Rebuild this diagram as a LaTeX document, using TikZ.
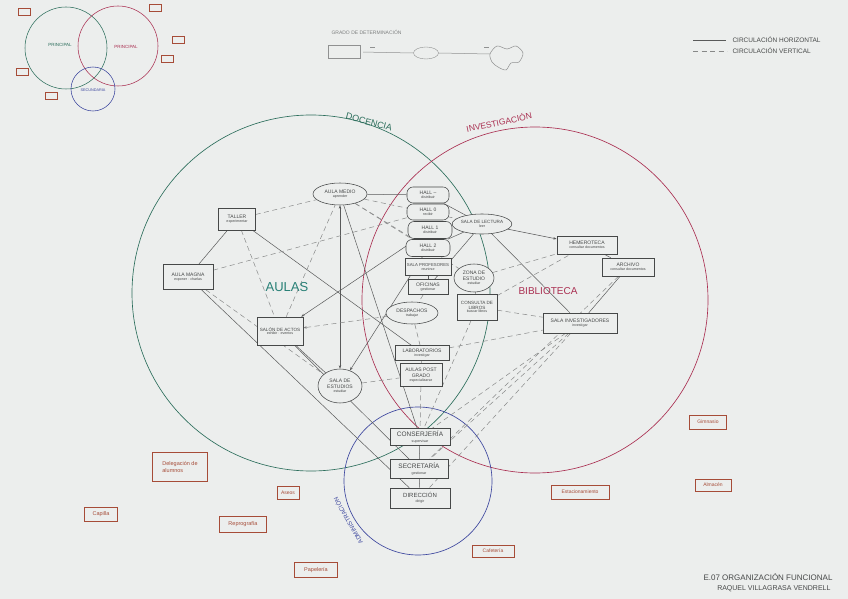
\documentclass[tikz,border=0pt]{standalone}
\usepackage{fontspec}
\setmainfont{Liberation Sans}
\usetikzlibrary{shapes.geometric,arrows.meta}

\definecolor{papel}{RGB}{236,238,237}
\definecolor{lapiz}{RGB}{70,72,72}
\definecolor{verdedoc}{RGB}{44,110,92}
\definecolor{tealaulas}{RGB}{40,128,118}
\definecolor{rojoinv}{RGB}{170,48,82}
\definecolor{azuladm}{RGB}{60,70,158}
\definecolor{marron}{RGB}{166,76,56}

\pgfdeclarelayer{fondo}
\pgfsetlayers{fondo,main}

% actividad escrita bajo el nombre del espacio
\newcommand{\uso}[1]{\\[-1.5pt]{\fontsize{3.6}{4}\selectfont #1}}

\begin{document}
\begin{tikzpicture}[x=1pt, y=-1pt,
    caja/.style={rectangle, draw=lapiz, fill=papel, line width=0.55pt, inner sep=1pt,
        align=center, text=lapiz, font=\fontsize{5}{5.5}\selectfont},
    burbuja/.style={caja, ellipse, inner sep=0pt},
    capsula/.style={caja, rounded corners=6pt},
    anexo/.style={rectangle, draw=marron, line width=0.55pt, text=marron, inner sep=1.5pt,
        align=left, font=\fontsize{5.5}{7}\selectfont},
    horiz/.style={draw=lapiz!90, line width=0.5pt},
    vert/.style={draw=lapiz!65, line width=0.5pt, dash pattern=on 5pt off 3.5pt},
    >={Stealth[length=3.5pt, width=2.4pt]}]

    \useasboundingbox (0,0) rectangle (848,599);

    % 1. Paper, small scheme top left and the three big circles
    \begin{pgfonlayer}{fondo}
        \fill[papel] (0,0) rectangle (848,599);
        \draw[verdedoc, line width=0.55pt] (66,48) circle[radius=41];
        \draw[rojoinv, line width=0.55pt] (118,46) circle[radius=40];
        \draw[azuladm, line width=0.55pt] (93,89) circle[radius=22];
        \foreach \x/\y in {24/12, 155/8, 178/40, 167/59, 22/72, 51/96}
            \draw[marron, line width=0.55pt] (\x-6,\y-3.5) rectangle (\x+6,\y+3.5);

        \draw[verdedoc, line width=0.65pt] (311,293) ellipse[x radius=179, y radius=178];
        \draw[rojoinv, line width=0.65pt] (535,300) circle[radius=173];
        \draw[azuladm, line width=0.65pt] (418,481) circle[radius=74];
    \end{pgfonlayer}

    \node[text=verdedoc, font=\fontsize{4.5}{5}\selectfont] (lprin1) at (60,45) {PRINCIPAL};
    \node[text=rojoinv, font=\fontsize{4.5}{5}\selectfont] (lprin2) at (126,47) {PRINCIPAL};
    \node[text=azuladm, font=\fontsize{3.8}{4}\selectfont] (lsecun) at (93,90) {SECUNDARIA};

    % 2. Grado de determinacion
    \node[anchor=west, text=lapiz!70, font=\fontsize{5}{5}\selectfont] (grado) at (328,32) {GRADO DE DETERMINACIÓN};
    \node[draw=lapiz!60, minimum width=32, minimum height=13, inner sep=0pt] (gradoA) at (344,52) {};
    \node[ellipse, draw=lapiz!60, minimum width=25, minimum height=12, inner sep=0pt] (gradoB) at (426,53) {};
    \coordinate (gradoC) at (490,54);
    \draw[lapiz!60, line width=0.5pt] plot[smooth cycle] coordinates {
        (490,54) (497,46) (507,49) (516,46) (523,53) (519,62) (511,63) (506,70) (498,67) (492,62)
    };
    \draw[lapiz!60, line width=0.5pt, shorten <=3pt] (gradoA.east) -- (gradoB.west);
    \draw[lapiz!60, line width=0.5pt] (gradoB.east) -- (gradoC);
    \draw[lapiz!60, line width=0.5pt] (370,47.5) -- (375,47.5);
    \draw[lapiz!60, line width=0.5pt] (484,47) -- (489,47);

    % 3. Leyenda de circulaciones
    \coordinate (hA) at (693,40);
    \coordinate (hB) at (726,40);
    \draw[horiz] (hA) -- (hB);
    \node[anchor=west, text=lapiz, font=\fontsize{6.5}{7}\selectfont] (lhoriz) at (729,40) {CIRCULACIÓN HORIZONTAL};
    \coordinate (vA) at (693,51);
    \coordinate (vB) at (727,51);
    \draw[vert] (vA) -- (vB);
    \node[anchor=west, text=lapiz, font=\fontsize{6.5}{7}\selectfont] (lvert) at (729,51) {CIRCULACIÓN VERTICAL};

    % 4. Names of the areas
    \node[text=verdedoc, rotate=-15, font=\fontsize{9}{9}\selectfont] (ldoc) at (369,122) {DOCENCIA};
    \node[text=rojoinv, rotate=12, font=\fontsize{8.5}{9}\selectfont] (linv) at (499,122) {INVESTIGACIÓN};
    \node[text=azuladm, rotate=120, inner sep=0pt, font=\fontsize{6}{6}\selectfont] (ladm) at (348,521) {ADMINISTRACIÓN};
    \node[text=tealaulas, font=\fontsize{13}{13}\selectfont] (laulas) at (287,287) {AULAS};
    \node[text=rojoinv, font=\fontsize{10}{10}\selectfont] (lbib) at (548,291) {BIBLIOTECA};

    % 5. Espacios de docencia
    \node[caja, minimum width=37, minimum height=22] (taller) at (237,219) {TALLER\uso{experimentar}};
    \node[caja, minimum width=50, minimum height=25] (magna) at (188,277) {AULA MAGNA\uso{exponer · charlas}};
    \node[caja, minimum width=46, minimum height=28, font=\fontsize{4.6}{5}\selectfont] (salon) at (280,331) {SALÓN DE ACTOS\uso{exhibir · eventos}};
    \node[burbuja, minimum width=54, minimum height=22] (medio) at (340,194) {AULA MEDIO\uso{aprender}};
    \node[burbuja, minimum width=44, minimum height=34] (estud) at (340,386) {SALA DE\\ESTUDIOS\uso{estudiar}};

    % 6. Halls, oficinas y despachos
    \node[capsula, minimum width=42, minimum height=16] (hallm) at (428,195) {HALL –\uso{distribuir}};
    \node[capsula, minimum width=42, minimum height=16] (hall0) at (428,212) {HALL 0\uso{recibir}};
    \node[capsula, minimum width=44, minimum height=17] (hall1) at (430,230) {HALL 1\uso{distribuir}};
    \node[capsula, minimum width=44, minimum height=17] (hall2) at (428,248) {HALL 2\uso{distribuir}};
    \node[caja, minimum width=46, minimum height=17, font=\fontsize{4.3}{5}\selectfont] (profes) at (428,267) {SALA PROFESORES\uso{reunirse}};
    \node[caja, minimum width=40, minimum height=15] (ofic) at (428,287) {OFICINAS\uso{gestionar}};
    \node[burbuja, minimum width=52, minimum height=22] (desp) at (412,313) {DESPACHOS\uso{trabajar}};
    \node[caja, minimum width=54, minimum height=15] (labo) at (422,353) {LABORATORIOS\uso{investigar}};
    \node[caja, minimum width=42, minimum height=23] (posg) at (421,375) {AULAS POST\\GRADO\uso{especializarse}};

    % 7. Biblioteca
    \node[burbuja, minimum width=58, minimum height=20, font=\fontsize{4.6}{5}\selectfont] (lectura) at (482,224) {SALA DE LECTURA\uso{leer}};
    \node[burbuja, minimum width=40, minimum height=28] (zona) at (474,278) {ZONA DE\\ESTUDIO\uso{estudiar}};
    \node[caja, minimum width=40, minimum height=26, font=\fontsize{4.6}{5}\selectfont] (consulta) at (477,307) {CONSULTA DE\\LIBROS\uso{buscar libros}};
    \node[caja, minimum width=60, minimum height=18] (hemero) at (587,245) {HEMEROTECA\uso{consultar documentos}};
    \node[caja, minimum width=52, minimum height=18] (archivo) at (628,267) {ARCHIVO\uso{consultar documentos}};
    \node[caja, minimum width=74, minimum height=20] (investig) at (580,323) {SALA INVESTIGADORES\uso{investigar}};

    % 8. Administracion
    \node[caja, minimum width=60, minimum height=17, font=\fontsize{6.5}{7}\selectfont] (conserje) at (420,437) {CONSERJERÍA\uso{supervisar}};
    \node[caja, minimum width=58, minimum height=19, font=\fontsize{6.5}{7}\selectfont] (secre) at (419,469) {SECRETARÍA\uso{gestionar}};
    \node[caja, minimum width=60, minimum height=20, font=\fontsize{6}{7}\selectfont] (direc) at (420,498) {DIRECCIÓN\uso{dirigir}};

    % 9. Horizontal and vertical circulation
    \begin{pgfonlayer}{fondo}
        \draw[horiz] (taller) -- (magna);
        \draw[horiz] (taller) -- (labo);
        \draw[horiz] (magna) -- (direc);
        \draw[horiz] (salon) -- (secre);
        \draw[horiz, <-] (salon) -- (hall1);
        \draw[horiz] (salon) -- (estud);
        \draw[horiz, <->] (medio) -- (estud);
        \draw[horiz, ->] (hall2) -- (estud);
        \draw[horiz] (medio) -- (hallm);
        \draw[horiz] (medio) -- (conserje);
        \draw[horiz] (profes) -- (ofic);
        \draw[horiz] (ofic) -- (lectura);
        \draw[horiz] (hallm) -- (lectura);
        \draw[horiz] (hall2) -- (lectura);
        \draw[horiz] (lectura) -- (investig);
        \draw[horiz, ->] (lectura) -- (hemero);
        \draw[horiz] (hemero) -- (archivo);
        \draw[horiz] (archivo) -- (investig);
        \draw[horiz] (zona) -- (consulta);
        \draw[horiz] (conserje) -- (secre);
        \draw[horiz] (secre) -- (direc);

        \draw[vert] (taller) -- (medio);
        \draw[vert] (taller) -- (salon);
        \draw[vert] (magna) -- (hall0);
        \draw[vert] (magna) -- (estud);
        \draw[vert] (salon) -- (medio);
        \draw[vert, ->] (desp) -- (salon);
        \draw[vert] (medio) -- (zona);
        \draw[vert] (medio) -- (lectura);
        \draw[vert] (medio) -- (hall2);
        \draw[vert] (ofic) -- (desp);
        \draw[vert] (desp) -- (labo);
        \draw[vert] (labo) -- (posg);
        \draw[vert] (posg) -- (conserje);
        \draw[vert] (estud) -- (posg);
        \draw[vert] (zona) -- (hemero);
        \draw[vert] (consulta) -- (hemero);
        \draw[vert] (consulta) -- (investig);
        \draw[vert] (consulta) -- (conserje);
        \draw[vert] (labo) -- (investig);
        \draw[vert] (investig) -- (conserje);
        \draw[vert] (investig) -- (secre);
        \draw[vert] (investig) -- (direc);
        \draw[vert] (archivo) -- (secre);
    \end{pgfonlayer}

    % 10. Servicios fuera de los circulos
    \node[anexo, minimum width=55, minimum height=29] (deleg) at (180,467) {Delegación de\\alumnos};
    \node[anexo, minimum width=33, minimum height=14] (capilla) at (101,514) {Capilla};
    \node[anexo, minimum width=22, minimum height=13, font=\fontsize{5}{6}\selectfont] (aseos) at (288,493) {Aseos};
    \node[anexo, minimum width=47, minimum height=16] (repro) at (243,524) {Reprografía};
    \node[anexo, minimum width=43, minimum height=15] (papel) at (316,570) {Papelería};
    \node[anexo, minimum width=42, minimum height=12, font=\fontsize{5}{6}\selectfont] (cafe) at (493,551) {Cafetería};
    \node[anexo, minimum width=58, minimum height=14, font=\fontsize{5}{6}\selectfont] (estac) at (580,492) {Estacionamiento};
    \node[anexo, minimum width=37, minimum height=14, font=\fontsize{5}{6}\selectfont] (gimn) at (708,422) {Gimnasio};
    \node[anexo, minimum width=36, minimum height=12, font=\fontsize{5}{6}\selectfont] (almac) at (713,485) {Almacén};

    % 11. Titulo
    \node[anchor=east, text=lapiz, font=\fontsize{8}{8}\selectfont] (titulo) at (836,577) {E.07 ORGANIZACIÓN FUNCIONAL};
    \node[anchor=east, text=lapiz, font=\fontsize{7}{7}\selectfont] (autora) at (834,589) {RAQUEL VILLAGRASA VENDRELL};
\end{tikzpicture}
\end{document}
